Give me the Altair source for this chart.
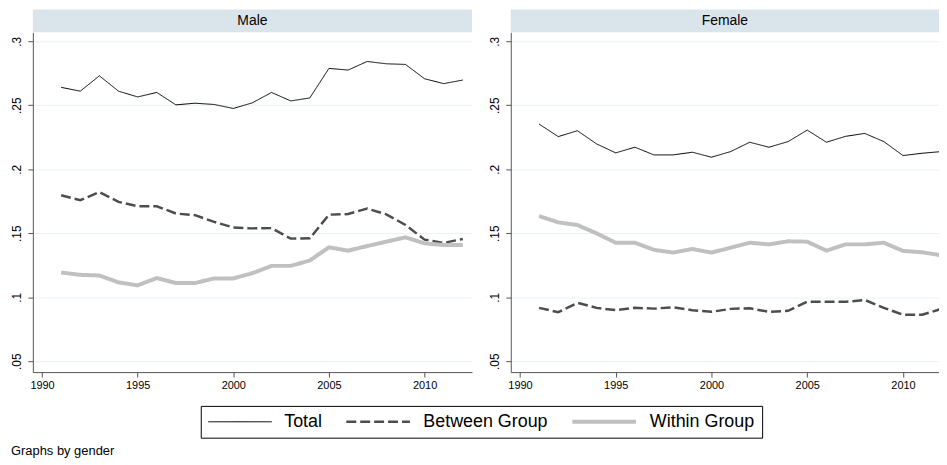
import altair as alt
import pandas as pd

years = list(range(1991, 2013))
series_names = ["Total", "Between Group", "Within Group"]

male_total = [0.264, 0.261, 0.273, 0.261, 0.2565, 0.260, 0.2503, 0.2516, 0.2506, 0.2475, 0.2519,
              0.260, 0.2534, 0.2557, 0.2788, 0.2775, 0.2842, 0.2824, 0.2819, 0.2707, 0.2669, 0.2697]
male_between = [0.1797, 0.1758, 0.1822, 0.1745, 0.1711, 0.1711, 0.1654, 0.1641, 0.1589, 0.1545, 0.1538,
                0.154, 0.1458, 0.146, 0.1645, 0.165, 0.1693, 0.1648, 0.1565, 0.145, 0.1425, 0.1455]
male_within = [0.1193, 0.1175, 0.117, 0.1116, 0.1093, 0.115, 0.1111, 0.1111, 0.1147, 0.1147, 0.1188,
               0.1245, 0.1245, 0.1287, 0.139, 0.1364, 0.140, 0.1434, 0.1468, 0.1421, 0.1408, 0.1408]

female_total = [0.2353, 0.2255, 0.2301, 0.2198, 0.2128, 0.2172, 0.2112, 0.2112, 0.2133, 0.2094, 0.2138,
                0.2211, 0.2172, 0.2216, 0.2306, 0.2211, 0.2257, 0.228, 0.2216, 0.2107, 0.2125, 0.2138]
female_between = [0.0917, 0.0883, 0.0956, 0.0917, 0.0899, 0.0917, 0.0911, 0.0922, 0.0899, 0.0886, 0.0909,
                  0.0914, 0.0886, 0.0894, 0.0966, 0.0964, 0.0964, 0.0979, 0.0917, 0.0863, 0.0863, 0.0909]
female_within = [0.1634, 0.1585, 0.1564, 0.1499, 0.1426, 0.1426, 0.137, 0.1349, 0.1377, 0.1349, 0.1387,
                 0.1426, 0.1413, 0.1437, 0.1434, 0.1364, 0.1413, 0.1413, 0.1426, 0.1362, 0.1351, 0.1328]

x_ticks = [1990, 1995, 2000, 2005, 2010]
y_ticks = [0.05, 0.1, 0.15, 0.2, 0.25, 0.3]

FONT = "Liberation Sans"


def make_df(total, between, within):
    rows = []
    for name, vals in zip(series_names, [total, between, within]):
        for yr, v in zip(years, vals):
            rows.append({"year": yr, "value": v, "series": name})
    return pd.DataFrame(rows)


df_male = make_df(male_total, male_between, male_within)
df_female = make_df(female_total, female_between, female_within)

color_scale = alt.Scale(domain=series_names, range=["#000000", "#4d4d4d", "#c0c0c0"])
dash_scale = alt.Scale(domain=series_names, range=[[1, 0], [10, 4], [1, 0]])
width_scale = alt.Scale(domain=series_names, range=[1, 4, 4])


def panel(df, title, xmax, w):
    hdr = pd.DataFrame({"label": [title]})
    band = alt.Chart(hdr).mark_rect(color="#dae5eb", clip=False).encode(
        x=alt.value(0), x2=alt.value(w), y=alt.value(-23), y2=alt.value(0)
    )
    txt = alt.Chart(hdr).mark_text(
        font=FONT, fontSize=14, fontWeight="normal", color="black",
        baseline="middle", align="center", clip=False
    ).encode(x=alt.value(w / 2), y=alt.value(-11), text="label:N")

    lines = alt.Chart(df).mark_line(clip=True).encode(
        x=alt.X("year:Q",
                scale=alt.Scale(domain=[1989.52, xmax], nice=False, zero=False),
                axis=alt.Axis(values=x_ticks, format="d", title=None, grid=False,
                              labelFontSize=11, labelFont=FONT, tickSize=5,
                              domainColor="#555555", tickColor="#555555", labelColor="black",
                              labelPadding=3, labelFlush=False)),
        y=alt.Y("value:Q",
                scale=alt.Scale(domain=[0.0415, 0.307], nice=False, zero=False),
                axis=alt.Axis(values=y_ticks, title=None, grid=True, gridColor="#eaf2f3",
                              labelExpr="substring(format(datum.value, '.2~f'), 1)",
                              labelAngle=-90, labelFontSize=12, labelFont=FONT, tickSize=5,
                              domainColor="#555555", tickColor="#555555", labelColor="black",
                              labelPadding=4, labelFlush=False)),
        color=alt.Color("series:N", scale=color_scale, legend=alt.Legend(title=None)),
        strokeDash=alt.StrokeDash("series:N", scale=dash_scale, legend=alt.Legend(title=None)),
        strokeWidth=alt.StrokeWidth("series:N", scale=width_scale, legend=alt.Legend(title=None)),
    )

    return alt.layer(band, txt, lines).properties(width=w, height=342)


left = panel(df_male, "Male", 2012.48, 442)
right = panel(df_female, "Female", 2011.88, 431)

chart = alt.hconcat(left, right, spacing=39, bounds="flush").properties(
    padding={"left": 2, "top": 0, "right": 0, "bottom": 0},
    title=alt.TitleParams("Graphs by gender", orient="bottom", anchor="start", frame="bounds",
                          fontSize=13, fontWeight="normal", font=FONT, color="black", offset=7),
).configure_view(stroke=None).configure_legend(
    orient="none", legendX=169, legendY=376, direction="horizontal",
    strokeColor="black", padding=7, symbolType="stroke", symbolSize=4096, clipHeight=18,
    labelFontSize=18, labelFont=FONT, labelColor="black", labelOffset=12,
    columnPadding=22, cornerRadius=0, labelLimit=300,
)

chart.save("out.html", embed_options={"renderer": "svg", "actions": False})
